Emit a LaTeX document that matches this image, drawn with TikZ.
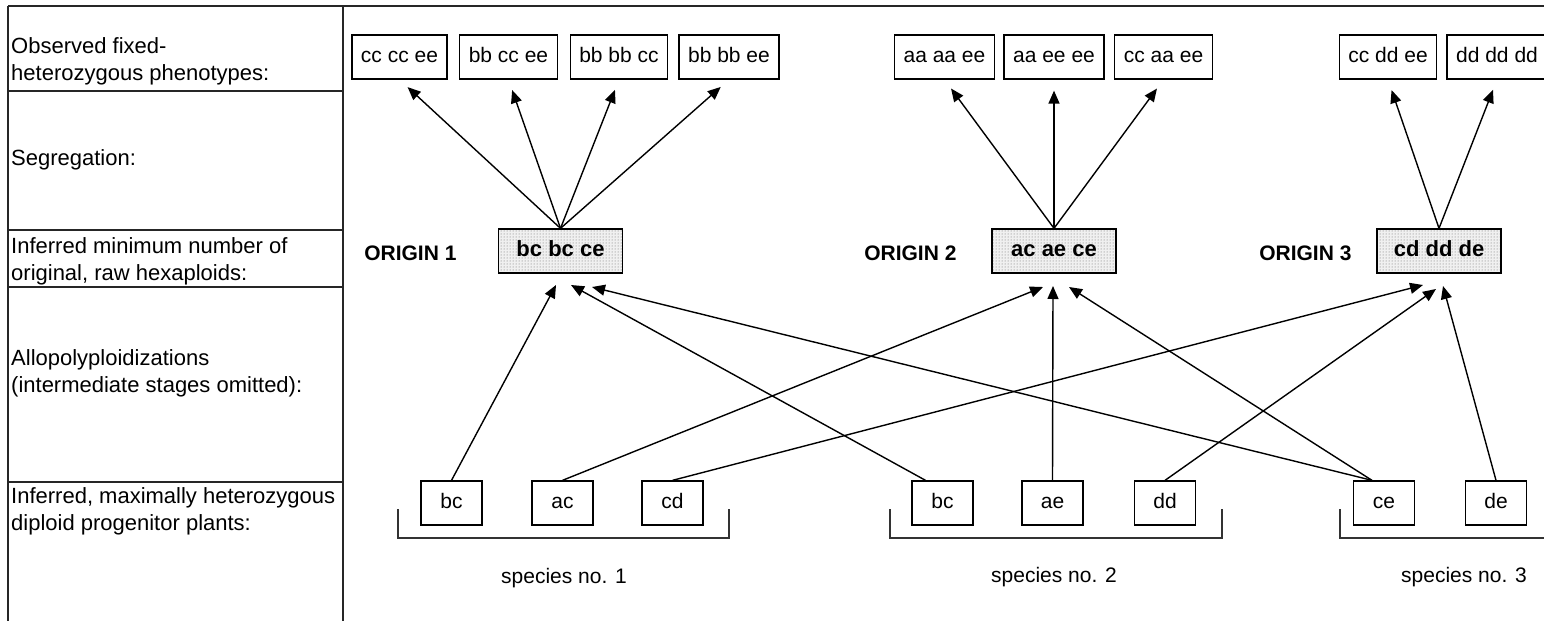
\documentclass[tikz,border=0pt]{standalone}
\usepackage{fontspec}
\setmainfont{Liberation Sans}
\usetikzlibrary{arrows.meta,patterns}
\begin{document}
\begin{tikzpicture}[x=1pt,y=-1pt,
  every node/.style={font=\fontsize{21}{27}\selectfont},
  rule/.style={line width=1.2pt, draw=black!85},
  pheno/.style={draw, line width=1.3pt, minimum height=44pt, inner xsep=9pt,
    text height=15pt, text depth=4pt},
  plant/.style={draw, line width=1.3pt, minimum height=44pt, minimum width=61pt,
    text height=15pt, text depth=4pt},
  hexa/.style={draw, line width=1.3pt, minimum height=44pt, minimum width=124pt,
    text height=15pt, text depth=4pt, font=\fontsize{22}{27}\selectfont\bfseries,
    preaction={fill=gray!12}, pattern=dots, pattern color=black!60},
  origin/.style={anchor=east, font=\fontsize{21}{27}\selectfont\bfseries},
  rowlabel/.style={anchor=base west, align=left, inner sep=0pt,
    font=\fontsize{22}{27}\selectfont},
  arr/.style={line width=1.4pt, -{Triangle[length=13pt,width=11pt]}},
  brace/.style={line width=1.2pt, draw=black!80},
]
\useasboundingbox (0,0) rectangle (1544,621);

% table frame on the left
\draw[rule] (8,6) -- (1544,6);
\draw[rule] (8,6) -- (8,621);
\draw[rule] (343,6) -- (343,621);
\foreach \y in {91,230,287,482} \draw[rule] (8,\y) -- (343,\y);

% row headings (base anchor sits on the last line)
\node[rowlabel] (l1) at (11,80) {Observed fixed-\\heterozygous phenotypes:};
\node[rowlabel] (l2) at (11,165) {Segregation:};
\node[rowlabel] (l3) at (11,280) {Inferred minimum number of\\original, raw hexaploids:};
\node[rowlabel] (l4) at (11,392) {Allopolyploidizations\\(intermediate stages omitted):};
\node[rowlabel] (l5) at (11,530) {Inferred, maximally heterozygous\\diploid progenitor plants:};

% observed phenotypes
\node[pheno] (p11) at (399.5,57) {cc cc ee};
\node[pheno] (p12) at (508.5,57) {bb cc ee};
\node[pheno] (p13) at (619,57) {bb bb cc};
\node[pheno] (p14) at (729,57) {bb bb ee};
\node[pheno] (p21) at (944.5,57) {aa aa ee};
\node[pheno] (p22) at (1054,57) {aa ee ee};
\node[pheno] (p23) at (1163.5,57) {cc aa ee};
\node[pheno] (p31) at (1388,57) {cc dd ee};
\node[pheno] (p32) at (1497,57) {dd dd dd};

% raw hexaploids
\node[hexa] (o1) at (560.5,251) {bc bc ce};
\node[hexa] (o2) at (1054,251) {ac ae ce};
\node[hexa] (o3) at (1439,251) {cd dd de};
\node[origin] (n1) at (460,253) {ORIGIN 1};
\node[origin] (n2) at (960,253) {ORIGIN 2};
\node[origin] (n3) at (1355,253) {ORIGIN 3};

% diploid progenitors
\node[plant] (a1) at (451.5,503) {bc};
\node[plant] (a2) at (562.5,503) {ac};
\node[plant] (a3) at (672.5,503) {cd};
\node[plant] (b1) at (942.5,503) {bc};
\node[plant] (b2) at (1052.5,503) {ae};
\node[plant] (b3) at (1165,503) {dd};
\node[plant] (c1) at (1384,503) {ce};
\node[plant] (c2) at (1496,503) {de};

% species brackets
\draw[brace] (398,509) -- (398,538) -- (729,538) -- (729,509);
\draw[brace] (890,509) -- (890,538) -- (1222,538) -- (1222,509);
\draw[brace] (1340,509) -- (1340,538) -- (1560,538);
\node (s1) at (564,578) {species no. 1};
\node (s2) at (1054,577) {species no. 2};
\node (s3) at (1464,577) {species no. 3};

% segregation arrows
\foreach \o/\p in {o1/p11,o1/p12,o1/p13,o1/p14,o2/p21,o2/p22,o2/p23,o3/p31,o3/p32}
  \draw[arr, shorten >=11pt] (\o.north) -- (\p.south);

% arrow tips below each hexaploid
\coordinate (t11) at (556,285);
\coordinate (t12) at (571,285);
\coordinate (t13) at (592,287);
\coordinate (t21) at (1043,287);
\coordinate (t22) at (1053,286);
\coordinate (t23) at (1069,287);
\coordinate (t31) at (1423,285);
\coordinate (t32) at (1436,289);
\coordinate (t33) at (1443,286);

% allopolyploidizations
\draw[arr] (a1.north) -- (t11);
\draw[arr] ([xshift=-17pt]b1.north) -- (t12);
\draw[arr] ([xshift=-12pt]c1.north) -- (t13);
\draw[arr] (a2.north) -- (t21);
\draw[arr] (b2.north) -- (t22);
\draw[arr] ([xshift=-12pt]c1.north) -- (t23);
\draw[arr] (a3.north) -- (t31);
\draw[arr] (b3.north) -- (t32);
\draw[arr] (c2.north) -- (t33);
\end{tikzpicture}
\end{document}
